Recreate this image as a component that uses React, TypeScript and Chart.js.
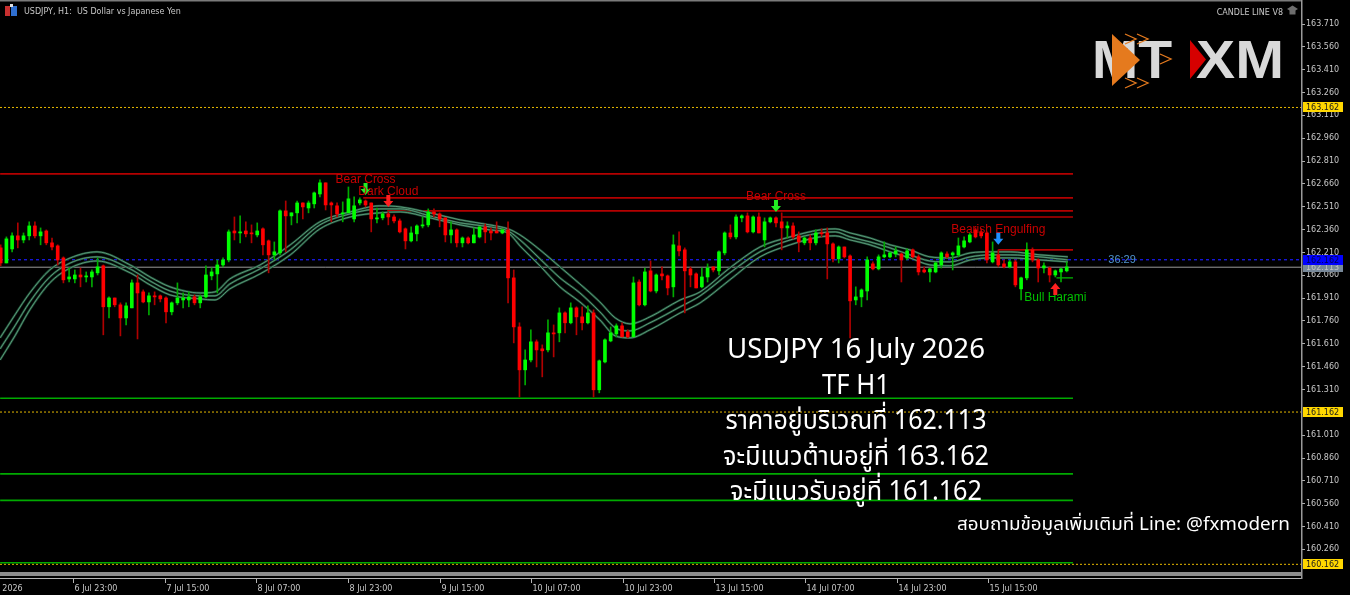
import React, { useEffect, useRef } from "react";
import { Chart, registerables } from "chart.js";

Chart.register(...registerables);

// ---------- data ----------
const OPEN = [
  162.240, 162.141, 162.233, 162.319, 162.292, 162.319, 162.384, 162.319, 162.351, 162.273,
  162.253, 162.174, 162.036, 162.036, 162.062, 162.049, 162.049, 162.076, 162.122, 161.853,
  161.911, 161.866, 161.780, 161.846, 162.010, 161.951, 161.885, 161.925, 161.925, 161.911,
  161.820, 161.879, 161.898, 161.898, 161.918, 161.879, 161.918, 162.056, 162.069, 162.128,
  162.161, 162.351, 162.338, 162.351, 162.338, 162.325, 162.365, 162.286, 162.194, 162.207,
  162.483, 162.450, 162.470, 162.535, 162.502, 162.529, 162.594, 162.667, 162.535, 162.516,
  162.463, 162.470, 162.430, 162.535, 162.548, 162.535, 162.430, 162.437, 162.463, 162.443,
  162.417, 162.365, 162.286, 162.332, 162.384, 162.391, 162.476, 162.463, 162.437, 162.325,
  162.358, 162.273, 162.305, 162.273, 162.312, 162.378, 162.351, 162.351, 162.338, 162.358,
  162.043, 161.721, 161.439, 161.504, 161.623, 161.577, 161.570, 161.682, 161.682, 161.813,
  161.748, 161.846, 161.787, 161.748, 161.813, 161.308, 161.491, 161.629, 161.675, 161.728,
  161.688, 161.656, 162.016, 161.866, 162.089, 161.957, 162.069, 162.056, 161.984, 162.253,
  162.227, 162.102, 162.069, 161.984, 162.049, 162.115, 162.089, 162.207, 162.338, 162.312,
  162.437, 162.450, 162.345, 162.443, 162.292, 162.411, 162.437, 162.411, 162.371, 162.384,
  162.319, 162.273, 162.305, 162.273, 162.338, 162.338, 162.266, 162.168, 162.246, 162.187,
  161.898, 161.918, 161.957, 162.135, 162.102, 162.181, 162.181, 162.200, 162.200, 162.174,
  162.227, 162.181, 162.095, 162.082, 162.082, 162.128, 162.200, 162.194, 162.194, 162.246,
  162.279, 162.358, 162.345, 162.338, 162.148, 162.194, 162.135, 162.115, 162.148, 161.971,
  162.043, 162.227, 162.161, 162.108, 162.108, 162.062, 162.082, 162.089,
];
const HIGH = [
  162.260, 162.312, 162.338, 162.404, 162.338, 162.411, 162.411, 162.371, 162.358, 162.305,
  162.260, 162.181, 162.108, 162.095, 162.108, 162.082, 162.095, 162.174, 162.128, 161.918,
  161.911, 161.879, 161.879, 162.030, 162.062, 161.964, 161.944, 161.951, 161.931, 161.918,
  161.885, 162.010, 161.944, 161.951, 161.931, 161.931, 162.122, 162.108, 162.161, 162.174,
  162.358, 162.443, 162.450, 162.411, 162.391, 162.404, 162.371, 162.292, 162.279, 162.489,
  162.548, 162.470, 162.548, 162.535, 162.548, 162.607, 162.686, 162.667, 162.542, 162.535,
  162.542, 162.640, 162.575, 162.568, 162.555, 162.535, 162.502, 162.476, 162.476, 162.457,
  162.430, 162.371, 162.378, 162.391, 162.443, 162.496, 162.496, 162.470, 162.437, 162.411,
  162.365, 162.312, 162.312, 162.371, 162.378, 162.397, 162.371, 162.411, 162.365, 162.411,
  162.095, 161.748, 161.570, 161.702, 161.636, 161.603, 161.767, 161.734, 161.846, 161.820,
  161.879, 161.853, 161.853, 161.859, 161.833, 161.504, 161.642, 161.721, 161.741, 161.748,
  161.702, 162.049, 162.030, 162.108, 162.154, 162.069, 162.115, 162.062, 162.325, 162.345,
  162.240, 162.115, 162.076, 162.108, 162.135, 162.115, 162.220, 162.345, 162.391, 162.457,
  162.457, 162.470, 162.450, 162.470, 162.437, 162.443, 162.443, 162.470, 162.411, 162.404,
  162.345, 162.312, 162.325, 162.358, 162.365, 162.371, 162.273, 162.253, 162.246, 162.194,
  161.984, 161.971, 162.181, 162.148, 162.194, 162.279, 162.214, 162.246, 162.207, 162.233,
  162.233, 162.194, 162.115, 162.108, 162.148, 162.214, 162.214, 162.214, 162.305, 162.312,
  162.338, 162.371, 162.365, 162.345, 162.279, 162.227, 162.161, 162.161, 162.161, 162.049,
  162.273, 162.240, 162.168, 162.141, 162.115, 162.095, 162.108, 162.148,
];
const LOW = [
  162.122, 162.141, 162.214, 162.240, 162.273, 162.292, 162.305, 162.260, 162.260, 162.227,
  162.128, 162.010, 162.016, 162.010, 161.984, 162.016, 161.984, 162.062, 161.669, 161.780,
  161.853, 161.662, 161.734, 161.846, 161.642, 161.879, 161.800, 161.866, 161.885, 161.748,
  161.800, 161.866, 161.846, 161.853, 161.866, 161.846, 161.911, 162.030, 161.944, 162.115,
  162.148, 162.292, 162.273, 162.312, 162.273, 162.312, 162.194, 162.076, 162.161, 162.194,
  162.214, 162.391, 162.404, 162.430, 162.470, 162.502, 162.575, 162.489, 162.411, 162.443,
  162.411, 162.470, 162.411, 162.522, 162.509, 162.345, 162.404, 162.424, 162.391, 162.404,
  162.338, 162.233, 162.279, 162.286, 162.371, 162.378, 162.443, 162.378, 162.279, 162.273,
  162.246, 162.246, 162.266, 162.273, 162.305, 162.273, 162.292, 162.338, 162.332, 161.879,
  161.616, 161.261, 161.340, 161.491, 161.458, 161.393, 161.557, 161.524, 161.623, 161.682,
  161.741, 161.669, 161.702, 161.741, 161.261, 161.288, 161.485, 161.623, 161.656, 161.656,
  161.649, 161.656, 161.859, 161.859, 161.951, 161.944, 162.030, 161.931, 161.918, 162.187,
  161.813, 161.984, 161.977, 161.977, 162.016, 162.082, 162.062, 162.194, 162.299, 162.299,
  162.411, 162.338, 162.338, 162.338, 162.246, 162.404, 162.378, 162.227, 162.305, 162.299,
  162.214, 162.260, 162.227, 162.260, 162.312, 162.036, 162.148, 162.141, 162.174, 161.649,
  161.866, 161.853, 161.898, 162.095, 162.095, 162.174, 162.174, 162.181, 162.016, 162.161,
  162.174, 162.062, 162.076, 162.016, 162.076, 162.108, 162.174, 162.095, 162.181, 162.240,
  162.273, 162.305, 162.305, 162.141, 162.141, 162.115, 162.108, 162.108, 161.984, 161.898,
  162.030, 162.148, 162.016, 162.076, 162.016, 162.049, 162.016, 162.082,
];
const CLOSE = [
  162.141, 162.299, 162.319, 162.292, 162.319, 162.384, 162.319, 162.345, 162.273, 162.246,
  162.161, 162.030, 162.049, 162.062, 162.049, 162.056, 162.082, 162.115, 161.853, 161.911,
  161.866, 161.780, 161.859, 162.010, 161.944, 161.885, 161.925, 161.918, 161.905, 161.820,
  161.879, 161.911, 161.911, 161.918, 161.879, 161.918, 162.062, 162.082, 162.128, 162.161,
  162.345, 162.338, 162.345, 162.332, 162.332, 162.351, 162.260, 162.194, 162.214, 162.483,
  162.450, 162.470, 162.535, 162.509, 162.535, 162.601, 162.667, 162.522, 162.522, 162.463,
  162.470, 162.562, 162.516, 162.555, 162.522, 162.430, 162.437, 162.463, 162.443, 162.417,
  162.345, 162.286, 162.338, 162.384, 162.391, 162.476, 162.463, 162.430, 162.325, 162.358,
  162.273, 162.305, 162.273, 162.325, 162.378, 162.345, 162.338, 162.338, 162.358, 162.043,
  161.721, 161.439, 161.504, 161.623, 161.570, 161.564, 161.682, 161.675, 161.813, 161.748,
  161.846, 161.787, 161.748, 161.813, 161.308, 161.498, 161.636, 161.682, 161.728, 161.656,
  161.656, 162.010, 161.866, 162.082, 161.957, 162.062, 162.056, 161.977, 162.260, 162.220,
  162.089, 162.062, 161.977, 162.049, 162.108, 162.095, 162.214, 162.338, 162.312, 162.443,
  162.450, 162.345, 162.443, 162.338, 162.411, 162.437, 162.404, 162.371, 162.384, 162.312,
  162.279, 162.305, 162.273, 162.338, 162.332, 162.266, 162.168, 162.246, 162.181, 161.892,
  161.918, 161.964, 162.161, 162.102, 162.181, 162.194, 162.207, 162.220, 162.161, 162.220,
  162.181, 162.082, 162.082, 162.102, 162.141, 162.207, 162.181, 162.207, 162.253, 162.286,
  162.325, 162.312, 162.319, 162.161, 162.207, 162.128, 162.115, 162.148, 161.997, 162.043,
  162.227, 162.161, 162.108, 162.122, 162.062, 162.089, 162.102, 162.115,
];

// moving-average band (three lines), read at bar positions
const EMA_X = [
  -0.1, 2.5, 5.1, 8.6, 12.2, 16.9, 22.7, 26.2, 29.7, 35.0, 37.6, 40.2, 45.5, 50.8, 56.0, 61.3,
  66.5, 70.1, 75.3, 80.6, 85.8, 89.0, 91.1, 94.6, 98.1, 101.6, 105.1, 107.8, 110.4, 113.9, 119.2,
  122.7, 127.9, 133.2, 138.5, 143.7, 146.4, 149.0, 152.5, 156.0, 159.5, 163.0, 166.5, 170.1, 173.6,
  177.1, 182.3, 187.2,
];
const EMA_UPPER = [
  161.649, 161.800, 161.944, 162.095, 162.174, 162.214, 162.128, 162.049, 161.984, 161.944,
  161.951, 162.036, 162.128, 162.260, 162.411, 162.476, 162.516, 162.509, 162.470, 162.424,
  162.391, 162.365, 162.325, 162.227, 162.115, 162.003, 161.885, 161.780, 161.741, 161.787,
  161.898, 161.951, 162.108, 162.246, 162.312, 162.358, 162.365, 162.338, 162.305, 162.260,
  162.227, 162.181, 162.174, 162.207, 162.214, 162.214, 162.194, 162.181,
];
const EMA_MID = [
  161.577, 161.728, 161.885, 162.049, 162.141, 162.181, 162.102, 162.023, 161.957, 161.925,
  161.925, 162.003, 162.102, 162.227, 162.391, 162.463, 162.496, 162.496, 162.450, 162.404,
  162.378, 162.351, 162.292, 162.168, 162.043, 161.944, 161.820, 161.715, 161.695, 161.748,
  161.853, 161.925, 162.076, 162.214, 162.292, 162.338, 162.345, 162.312, 162.279, 162.240,
  162.194, 162.154, 162.148, 162.181, 162.194, 162.194, 162.181, 162.161,
];
const EMA_LOWER = [
  161.504, 161.662, 161.833, 162.010, 162.108, 162.154, 162.076, 161.997, 161.931, 161.905,
  161.898, 161.971, 162.069, 162.194, 162.365, 162.443, 162.470, 162.476, 162.437, 162.391,
  162.358, 162.338, 162.253, 162.122, 161.984, 161.885, 161.767, 161.662, 161.649, 161.702,
  161.813, 161.879, 162.030, 162.181, 162.260, 162.312, 162.319, 162.292, 162.260, 162.214,
  162.174, 162.128, 162.122, 162.161, 162.174, 162.174, 162.161, 162.148,
];

// horizontal levels
const RES_LINE_PRICE = [162.726, 162.568, 162.483, 162.443, 162.227];
const RES_LINE_FROM = [-0.1, 63.6, 67.8, 137.1, 175.0];
const SUP_LINE_PRICE = [161.253, 160.756, 160.582, 160.172];
const HARAMI_LINE = { from: 185.2, price: 162.043 };
const LINE_END = 188.1;
const RESISTANCE = 163.162;
const PIVOT = 162.162;
const BID = 162.113;
const SUPPORT = 161.162;
const SUPPORT2 = 160.162;

// patterns
const PATTERN_NAMES = ["Bear Cross", "Dark Cloud", "Bear Cross", "Bearish Engulfing", "Bull Harami"];
const PATTERN_BARS = [64, 68, 136, 175, 185];
const PATTERN_DIR = ["down", "down", "down", "down", "up"];

// axes
const Y_TICKS = [
  163.71, 163.56, 163.41, 163.26, 163.11, 162.96, 162.81, 162.66, 162.51, 162.36, 162.21, 162.06,
  161.91, 161.76, 161.61, 161.46, 161.31, 161.01, 160.86, 160.71, 160.56, 160.41, 160.26,
];
const X_TICK_POS = [-3.4, 12.7, 28.8, 44.8, 60.9, 77.0, 93.0, 109.1, 125.1, 141.1, 157.2, 173.2];
const X_TICK_LABELS = [
  "6 Jul 2026", "6 Jul 23:00", "7 Jul 15:00", "8 Jul 07:00", "8 Jul 23:00", "9 Jul 15:00",
  "10 Jul 07:00", "10 Jul 23:00", "13 Jul 15:00", "14 Jul 07:00", "14 Jul 23:00", "15 Jul 15:00",
];
const X_MIN = -0.123;
const X_MAX = 228.1;
const Y_MIN = 160.1116;
const Y_MAX = 163.8545;

const TITLE = "USDJPY, H1:  US Dollar vs Japanese Yen";
const INDICATOR = "CANDLE LINE V8";
const TIMER = "36:29";
const TIMER_BAR = 194.3;
const INFO_LINES = [
  "USDJPY 16 July 2026",
  "TF H1",
  "ราคาอยู่บริเวณที่ 162.113",
  "จะมีแนวต้านอยู่ที่ 163.162",
  "จะมีแนวรับอยู่ที่ 161.162",
];
const CONTACT = "สอบถามข้อมูลเพิ่มเติมที่ Line: @fxmodern";

// ---------- styles ----------
const UP = "#00ff00";
const DOWN = "#ff0000";
const UP_WICK = "#00aa00";
const DOWN_WICK = "#b00000";
const AXIS_FONT = "8px 'DejaVu Sans', sans-serif";
const AXIS_TEXT = "#c8c8c8";
const PATTERN_TEXT = ["#c80000", "#c80000", "#c80000", "#c80000", "#00c000"];
const PATTERN_ARROW = ["#22ee22", "#ff2020", "#22ee22", "#1e90ff", "#ff2020"];
const INFO_BASELINES = [358, 393.5, 429, 464.5, 499.5];
const INFO_WIDTHS = [258, 68, 261, 266, 252];

function hLine(from: number, to: number, price: number) {
  return [
    { x: from, y: price },
    { x: to, y: price },
  ];
}

function drawArrow(ctx: CanvasRenderingContext2D, x: number, tip: number, dir: string, color: string) {
  const s = dir === "down" ? 1 : -1;
  ctx.fillStyle = color;
  ctx.beginPath();
  ctx.moveTo(x, tip);
  ctx.lineTo(x - 5, tip - s * 6);
  ctx.lineTo(x - 2, tip - s * 6);
  ctx.lineTo(x - 2, tip - s * 12);
  ctx.lineTo(x + 2, tip - s * 12);
  ctx.lineTo(x + 2, tip - s * 6);
  ctx.lineTo(x + 5, tip - s * 6);
  ctx.closePath();
  ctx.fill();
}

// draws text left-aligned at x, horizontally scaled to width w
function fitText(ctx: CanvasRenderingContext2D, s: string, x: number, y: number, w: number) {
  const m = ctx.measureText(s).width;
  ctx.save();
  ctx.textAlign = "left";
  ctx.translate(x, y);
  ctx.scale(w / m, 1);
  ctx.fillText(s, 0, 0);
  ctx.restore();
}

function priceBox(ctx: CanvasRenderingContext2D, y: number, label: string, bg: string, fg: string) {
  ctx.fillStyle = bg;
  ctx.fillRect(1303, Math.round(y) - 5, 40, 10);
  ctx.fillStyle = fg;
  ctx.font = AXIS_FONT;
  ctx.textAlign = "left";
  ctx.textBaseline = "middle";
  ctx.fillText(label, 1306, Math.round(y) + 0.5);
}

const overlayPlugin = {
  id: "overlay",
  beforeDraw(chart: any) {
    const { ctx, width, height } = chart;
    ctx.save();
    ctx.fillStyle = "#000";
    ctx.fillRect(0, 0, width, height);
    ctx.restore();
  },
  afterDraw(chart: any) {
    const ctx: CanvasRenderingContext2D = chart.ctx;
    const xs = chart.scales.x;
    const ys = chart.scales.y;
    const px = (v: number) => xs.getPixelForValue(v);
    const py = (v: number) => ys.getPixelForValue(v);
    ctx.save();

    // frame
    ctx.fillStyle = "#7a7a7a";
    ctx.fillRect(0, 0, 1302, 1.5);
    ctx.fillStyle = "#8c8c8c";
    ctx.fillRect(0, 572, 1302, 4);
    ctx.fillStyle = "#b4b4b4";
    ctx.fillRect(0, 578, 1302, 1);
    ctx.fillStyle = "#9a9a9a";
    ctx.fillRect(1301, 0, 1.5, 579);

    // x axis ticks + labels
    ctx.font = AXIS_FONT;
    ctx.textAlign = "left";
    ctx.textBaseline = "alphabetic";
    X_TICK_POS.forEach((v, i) => {
      const x = Math.round(px(v)) + 0.5;
      ctx.strokeStyle = "#b4b4b4";
      ctx.lineWidth = 1;
      ctx.beginPath();
      ctx.moveTo(x, 579);
      ctx.lineTo(x, 583);
      ctx.stroke();
      ctx.fillStyle = AXIS_TEXT;
      ctx.fillText(X_TICK_LABELS[i], x + 1, 591);
    });

    // title + icon
    ctx.fillStyle = "#c83030";
    ctx.fillRect(5, 6, 5, 10);
    ctx.fillStyle = "#2f6fd0";
    ctx.fillRect(11, 6, 6, 10);
    ctx.fillStyle = "#e0e0e0";
    ctx.fillRect(10, 4, 3, 3);
    ctx.fillStyle = AXIS_TEXT;
    ctx.font = AXIS_FONT;
    ctx.textAlign = "left";
    ctx.fillText(TITLE, 24, 14);
    ctx.textAlign = "right";
    ctx.fillText(INDICATOR, 1283, 15);
    // hat icon
    ctx.fillStyle = "#6e6e6e";
    ctx.beginPath();
    ctx.moveTo(1287, 9);
    ctx.lineTo(1292.5, 5.5);
    ctx.lineTo(1298, 9);
    ctx.lineTo(1292.5, 12);
    ctx.closePath();
    ctx.fill();
    ctx.fillRect(1289.5, 10, 6, 4.5);

    // logo
    ctx.textAlign = "left";
    ctx.textBaseline = "alphabetic";
    ctx.font = "bold 53px 'Liberation Sans', Arial, sans-serif";
    ctx.fillStyle = "#d9d9d9";
    fitText(ctx, "MT", 1092, 78, 80);
    ctx.fillStyle = "#e57a1e";
    ctx.beginPath();
    ctx.moveTo(1112, 34);
    ctx.lineTo(1140, 60);
    ctx.lineTo(1112, 86);
    ctx.closePath();
    ctx.fill();
    ctx.strokeStyle = "#e57a1e";
    ctx.lineWidth = 1.3;
    [[1125, 34], [1137, 34], [1160, 54], [1125, 78], [1137, 78]].forEach(([cx, cy]) => {
      ctx.beginPath();
      ctx.moveTo(cx, cy);
      ctx.lineTo(cx + 11, cy + 5);
      ctx.lineTo(cx, cy + 10);
      ctx.stroke();
    });
    ctx.fillStyle = "#d9d9d9";
    fitText(ctx, "XM", 1196, 78, 88);
    ctx.fillStyle = "#d60000";
    ctx.beginPath();
    ctx.moveTo(1190, 40);
    ctx.lineTo(1206, 59.5);
    ctx.lineTo(1190, 79);
    ctx.closePath();
    ctx.fill();

    // patterns
    ctx.font = "12px 'Liberation Sans', Arial, sans-serif";
    ctx.textAlign = "center";
    ctx.textBaseline = "middle";
    PATTERN_NAMES.forEach((name, i) => {
      const bar = PATTERN_BARS[i];
      const x = px(bar);
      const down = PATTERN_DIR[i] === "down";
      const tip = down ? py(HIGH[bar]) - 5 : py(LOW[bar]) + 6;
      const ty = down ? tip - 15 : tip + 15;
      ctx.fillStyle = PATTERN_TEXT[i];
      ctx.fillText(name, x, ty);
      drawArrow(ctx, x, tip, PATTERN_DIR[i], PATTERN_ARROW[i]);
    });

    // timer
    ctx.font = "11px 'Liberation Sans', Arial, sans-serif";
    ctx.fillStyle = "#4f94cd";
    ctx.textAlign = "left";
    ctx.fillText(TIMER, px(TIMER_BAR), py(PIVOT));

    // price boxes on the axis
    priceBox(ctx, py(RESISTANCE), RESISTANCE.toFixed(3), "#ffd700", "#1a1a1a");
    priceBox(ctx, py(BID), BID.toFixed(3), "#778899", "#c4c4c4");
    priceBox(ctx, py(PIVOT), PIVOT.toFixed(3), "#0000ff", "#000050");
    priceBox(ctx, py(SUPPORT), SUPPORT.toFixed(3), "#ffd700", "#1a1a1a");
    priceBox(ctx, py(SUPPORT2), SUPPORT2.toFixed(3), "#ffd700", "#1a1a1a");

    // info text
    ctx.fillStyle = "#ffffff";
    ctx.textBaseline = "alphabetic";
    ctx.font = "27px 'Noto Sans', 'Noto Sans Thai', 'Open Sans', sans-serif";
    INFO_LINES.forEach((s, i) => {
      const w = INFO_WIDTHS[i];
      fitText(ctx, s, 856 - w / 2, INFO_BASELINES[i], w);
    });
    ctx.font = "18px 'Noto Sans', 'Noto Sans Thai', 'Open Sans', sans-serif";
    fitText(ctx, CONTACT, 957, 530, 333);

    ctx.restore();
  },
};

export default function App() {
  const ref = useRef<HTMLCanvasElement>(null);
  useEffect(() => {
    document.body.style.margin = "0";
    document.body.style.background = "#000";
    const bodies = OPEN.map((o, i) => ({ x: i, y: [o, CLOSE[i]] }));
    const wicks = OPEN.map((_, i) => ({ x: i, y: [LOW[i], HIGH[i]] }));
    const isUp = (i: number) => CLOSE[i] >= OPEN[i];
    const emaPts = (arr: number[]) => arr.map((v, i) => ({ x: EMA_X[i], y: v }));
    const lineBase = { type: "line", pointRadius: 0, fill: false };
    const datasets: any[] = [
      {
        type: "bar",
        data: bodies,
        backgroundColor: (c: any) => (isUp(c.dataIndex) ? UP : DOWN),
        barThickness: 3,
        grouped: false,
        minBarLength: 1,
        borderWidth: 0,
        order: 1,
      },
      {
        type: "bar",
        data: wicks,
        backgroundColor: (c: any) => (isUp(c.dataIndex) ? UP_WICK : DOWN_WICK),
        barThickness: 1,
        grouped: false,
        minBarLength: 1,
        borderWidth: 0,
        order: 2,
      },
    ];
    [EMA_UPPER, EMA_MID, EMA_LOWER].forEach((arr) => {
      datasets.push({ ...lineBase, data: emaPts(arr), borderColor: "#1d4d36", borderWidth: 2.2, cubicInterpolationMode: "monotone", order: 4 });
      datasets.push({ ...lineBase, data: emaPts(arr), borderColor: "#6aa886", borderWidth: 0.8, cubicInterpolationMode: "monotone", order: 3 });
    });
    RES_LINE_PRICE.forEach((p, i) =>
      datasets.push({ ...lineBase, data: hLine(RES_LINE_FROM[i], LINE_END, p), borderColor: "#b40000", borderWidth: 1.6, order: 6 })
    );
    SUP_LINE_PRICE.forEach((p) =>
      datasets.push({ ...lineBase, data: hLine(-0.1, LINE_END, p), borderColor: "#00aa00", borderWidth: 1.6, order: 6 })
    );
    datasets.push({ ...lineBase, data: hLine(HARAMI_LINE.from, LINE_END, HARAMI_LINE.price), borderColor: "#00aa00", borderWidth: 1.4, order: 6 });
    [RESISTANCE, SUPPORT, SUPPORT2].forEach((p) =>
      datasets.push({ ...lineBase, data: hLine(X_MIN, X_MAX, p), borderColor: "#e6b800", borderWidth: 1, borderDash: [2, 2], order: 7 })
    );
    datasets.push({ ...lineBase, data: hLine(X_MIN, X_MAX, PIVOT), borderColor: "#1a1aff", borderWidth: 1.2, borderDash: [3, 3], order: 7 });
    datasets.push({ ...lineBase, data: hLine(X_MIN, X_MAX, BID), borderColor: "#9a9a9a", borderWidth: 1, order: 7 });

    const chart = new Chart(ref.current as HTMLCanvasElement, {
      type: "bar",
      data: { datasets },
      options: {
        responsive: false,
        animation: false,
        devicePixelRatio: 1,
        events: [],
        layout: { padding: { top: 2, bottom: 23, left: 0, right: 0 } },
        plugins: { legend: { display: false }, tooltip: { enabled: false } },
        scales: {
          x: { type: "linear", min: X_MIN, max: X_MAX, display: false, offset: false },
          y: {
            type: "linear",
            position: "right",
            min: Y_MIN,
            max: Y_MAX,
            beginAtZero: false,
            afterBuildTicks: (s: any) => {
              s.ticks = Y_TICKS.map((v) => ({ value: v }));
            },
            afterFit: (s: any) => {
              s.width = 49;
              s.paddingTop = 0;
              s.paddingBottom = 0;
            },
            ticks: {
              autoSkip: false,
              padding: 1,
              color: AXIS_TEXT,
              font: { family: "'DejaVu Sans', sans-serif", size: 8 },
              callback: (v: any) => Number(v).toFixed(3),
            },
            grid: { drawOnChartArea: false, drawTicks: true, tickLength: 4, color: "#b0b0b0", tickColor: "#b0b0b0" },
            border: { display: false },
          },
        },
      },
      plugins: [overlayPlugin],
    } as any);
    return () => chart.destroy();
  }, []);
  return (
    <div style={{ width: 1350, height: 595, background: "#000" }}>
      <canvas ref={ref} width={1350} height={595} style={{ display: "block" }} />
    </div>
  );
}
